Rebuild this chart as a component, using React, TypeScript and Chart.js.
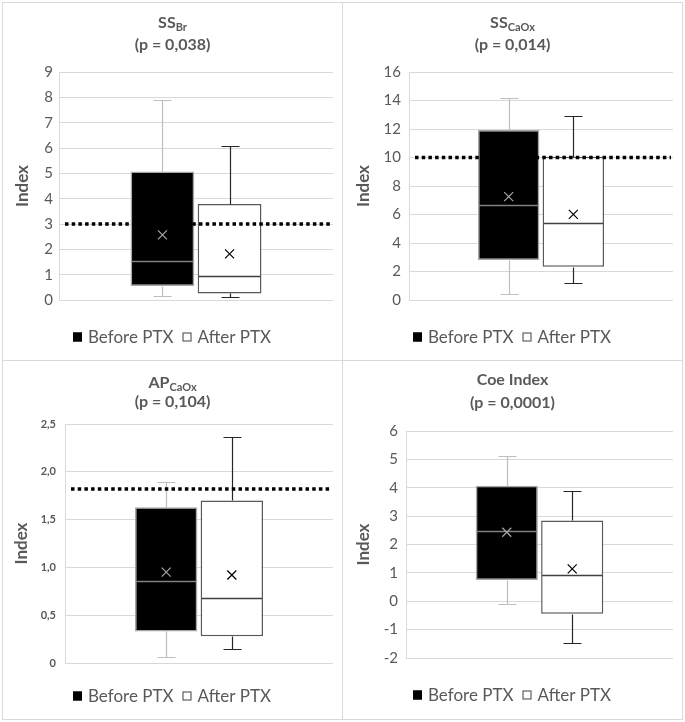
import React, { useEffect, useRef } from "react";
import { Chart, registerables } from "chart.js";

Chart.register(...registerables);

// ---------- data ----------
const GROUPS = ["Before PTX", "After PTX"];
const TITLE_MAIN = ["SS", "SS", "AP", "Coe Index"];
const TITLE_SUB = ["Br", "CaOx", "CaOx", ""];
const P_VALUES = ["(p = 0,038)", "(p = 0,014)", "(p = 0,104)", "(p = 0,0001)"];
const Y_LABEL = "Index";
const Y_MIN = [0, 0, 0, -2];
const Y_MAX = [9, 16, 2.5, 6];
const Y_STEP = [1, 2, 0.5, 1];
const THRESHOLDS: (number | null)[] = [3, 10, 1.82, null];

// per panel: [Before PTX, After PTX]
const WHISKER_LOW = [[0.15, 0.1], [0.44, 1.22], [0.06, 0.15], [-0.08, -1.46]];
const Q1 = [[0.55, 0.26], [2.81, 2.34], [0.33, 0.28], [0.75, -0.44]];
const MEDIAN = [[1.55, 0.95], [6.67, 5.43], [0.86, 0.68], [2.49, 0.92]];
const Q3 = [[5.07, 3.79], [11.93, 10.06], [1.63, 1.7], [4.07, 2.85]];
const WHISKER_HIGH = [[7.9, 6.08], [14.2, 12.89], [1.89, 2.36], [5.12, 3.9]];
const MEAN = [[2.57, 1.82], [7.25, 6.01], [0.95, 0.92], [2.43, 1.14]];

// ---------- styles / layout ----------
const FONT = "Lato, 'Open Sans', sans-serif";
const TEXT = "#595959";
const GRID = "#d9d9d9";

const GROUP_STYLE = [
  { fill: "#000000", border: "#a6a6a6", whisker: "#bfbfbf", median: "#808080", mean: "#a6a6a6", legendFill: "#000000", legendStroke: "#000000" },
  { fill: "#ffffff", border: "#595959", whisker: "#262626", median: "#404040", mean: "#000000", legendFill: "#ffffff", legendStroke: "#404040" },
];

const PANEL_POS = [
  { left: 2, top: 2, w: 341, h: 359 },
  { left: 342, top: 2, w: 341, h: 359 },
  { left: 2, top: 360, w: 341, h: 360 },
  { left: 342, top: 360, w: 341, h: 360 },
];
const AREA_LEFT = [56, 66, 62, 63];
const AREA_RIGHT = [330, 330, 330, 330];
const AREA_TOP = [69, 69, 63, 70];
const AREA_BOTTOM = [297, 297, 302, 297];
const TICK_PAD = [6, 8, 9, 8];
const YTITLE_PAD = [9, 10, 8, 10];
const TITLE_Y1 = [20, 20, 22, 19];
const TITLE_Y2 = [42, 42, 41, 42];
const LEGEND_Y = [334, 334, 335, 334];
const TICK_FONT = [
  { size: 15, weight: "normal" },
  { size: 15, weight: "normal" },
  { size: 11, weight: "bold" },
  { size: 15, weight: "normal" },
];

const titlePlugin = {
  id: "panelTitle",
  afterDraw(chart: any, _a: any, opts: any) {
    const { ctx, width } = chart;
    ctx.save();
    ctx.fillStyle = TEXT;
    ctx.textBaseline = "middle";
    const mainFont = `bold 16px ${FONT}`;
    const subFont = `bold 11px ${FONT}`;
    ctx.font = mainFont;
    const w1 = ctx.measureText(opts.main).width;
    ctx.font = subFont;
    const w2 = opts.sub ? ctx.measureText(opts.sub).width : 0;
    const x0 = width / 2 - (w1 + w2) / 2;
    ctx.textAlign = "left";
    ctx.font = mainFont;
    ctx.fillText(opts.main, x0, opts.y1);
    if (opts.sub) {
      ctx.font = subFont;
      ctx.fillText(opts.sub, x0 + w1, opts.y1 + 4);
    }
    ctx.font = mainFont;
    ctx.textAlign = "center";
    ctx.fillText(opts.p, width / 2, opts.y2);
    ctx.restore();
  },
};

const legendPlugin = {
  id: "panelLegend",
  afterDraw(chart: any, _a: any, opts: any) {
    const { ctx, width } = chart;
    ctx.save();
    ctx.font = `17px ${FONT}`;
    ctx.textBaseline = "middle";
    ctx.textAlign = "left";
    const box = 9;
    const gapBox = 6;
    const gapItem = 9;
    const widths = GROUPS.map((g) => ctx.measureText(g).width);
    const total = widths.reduce((s, w) => s + w + box + gapBox, 0) + gapItem * (GROUPS.length - 1);
    let x = Math.round(width / 2 - total / 2);
    const y = opts.y;
    GROUPS.forEach((g, i) => {
      const st = GROUP_STYLE[i];
      ctx.fillStyle = st.legendFill;
      ctx.fillRect(x, y - box / 2, box, box);
      ctx.strokeStyle = st.legendStroke;
      ctx.lineWidth = 1;
      ctx.strokeRect(x + 0.5, y - box / 2 + 0.5, box - 1, box - 1);
      ctx.fillStyle = TEXT;
      ctx.fillText(g, x + box + gapBox, y + 1);
      x += box + gapBox + widths[i] + gapItem;
    });
    ctx.restore();
  },
};

const boxPlugin = {
  id: "boxParts",
  afterDatasetsDraw(chart: any, _a: any, opts: any) {
    const { ctx } = chart;
    const ys = chart.scales.y;
    const p = opts.panel;
    GROUPS.forEach((_g, i) => {
      const el = chart.getDatasetMeta(i).data[0];
      if (!el) return;
      const st = GROUP_STYLE[i];
      const x = Math.round(el.x) + 0.5;
      const half = el.width / 2;
      const cap = 9;
      const py = (v: number) => Math.round(ys.getPixelForValue(v)) + 0.5;
      ctx.save();
      ctx.lineWidth = 1.2;
      ctx.strokeStyle = st.whisker;
      ctx.beginPath();
      ctx.moveTo(x, py(WHISKER_HIGH[p][i]));
      ctx.lineTo(x, py(Q3[p][i]));
      ctx.moveTo(x - cap, py(WHISKER_HIGH[p][i]));
      ctx.lineTo(x + cap, py(WHISKER_HIGH[p][i]));
      ctx.moveTo(x, py(Q1[p][i]));
      ctx.lineTo(x, py(WHISKER_LOW[p][i]));
      ctx.moveTo(x - cap, py(WHISKER_LOW[p][i]));
      ctx.lineTo(x + cap, py(WHISKER_LOW[p][i]));
      ctx.stroke();
      // median
      ctx.strokeStyle = st.median;
      ctx.lineWidth = 1.5;
      ctx.beginPath();
      ctx.moveTo(el.x - half + 1, py(MEDIAN[p][i]));
      ctx.lineTo(el.x + half - 1, py(MEDIAN[p][i]));
      ctx.stroke();
      // mean marker
      const my = ys.getPixelForValue(MEAN[p][i]);
      const s = 4.5;
      ctx.strokeStyle = st.mean;
      ctx.lineWidth = 1.2;
      ctx.beginPath();
      ctx.moveTo(el.x - s, my - s);
      ctx.lineTo(el.x + s, my + s);
      ctx.moveTo(el.x + s, my - s);
      ctx.lineTo(el.x - s, my + s);
      ctx.stroke();
      ctx.restore();
    });
    const t = THRESHOLDS[p];
    if (t !== null && t !== undefined) {
      const ca = chart.chartArea;
      const ty = ys.getPixelForValue(t);
      ctx.save();
      ctx.strokeStyle = "#000000";
      ctx.lineWidth = 3.5;
      ctx.setLineDash([3.5, 3.2]);
      ctx.beginPath();
      ctx.moveTo(ca.left + 6, ty);
      ctx.lineTo(ca.right - 2, ty);
      ctx.stroke();
      ctx.restore();
    }
  },
};

function Panel({ index }: { index: number }) {
  const ref = useRef<HTMLCanvasElement | null>(null);
  const pos = PANEL_POS[index];
  const cw = pos.w - 2;
  const ch = pos.h - 2;

  useEffect(() => {
    if (!ref.current) return;
    const i = index;
    const chart = new Chart(ref.current, {
      type: "bar",
      data: {
        labels: [""],
        datasets: GROUPS.map((g, k) => ({
          label: g,
          data: [[Q1[i][k], Q3[i][k]]] as any,
          backgroundColor: GROUP_STYLE[k].fill,
          borderColor: GROUP_STYLE[k].border,
          borderWidth: 1.5,
          borderSkipped: false,
          categoryPercentage: 0.49,
          barPercentage: 0.95,
        })),
      },
      options: {
        responsive: false,
        animation: false,
        events: [],
        layout: {
          padding: {
            left: 0,
            top: AREA_TOP[i],
            right: cw - AREA_RIGHT[i],
            bottom: ch - AREA_BOTTOM[i],
          },
        },
        scales: {
          x: { display: false },
          y: {
            min: Y_MIN[i],
            max: Y_MAX[i],
            afterFit: (scale: any) => {
              scale.width = AREA_LEFT[i];
            },
            ticks: {
              stepSize: Y_STEP[i],
              color: TEXT,
              padding: TICK_PAD[i],
              font: { family: FONT, size: TICK_FONT[i].size, weight: TICK_FONT[i].weight as any },
              callback: (v: any) => {
                const n = Number(v);
                if (Y_STEP[i] < 1) return n === 0 ? "0" : n.toFixed(1).replace(".", ",");
                return String(n);
              },
            },
            grid: { color: GRID, lineWidth: 1, drawTicks: false },
            border: { display: true, color: GRID, width: 1 },
            title: {
              display: true,
              text: Y_LABEL,
              color: TEXT,
              font: { family: FONT, size: 17, weight: "bold" },
              padding: { top: YTITLE_PAD[i], bottom: 0 },
            },
          },
        },
        plugins: {
          legend: { display: false },
          tooltip: { enabled: false },
          title: { display: false },
          panelTitle: { main: TITLE_MAIN[i], sub: TITLE_SUB[i], p: P_VALUES[i], y1: TITLE_Y1[i], y2: TITLE_Y2[i] },
          panelLegend: { y: LEGEND_Y[i] },
          boxParts: { panel: i },
        } as any,
      },
      plugins: [titlePlugin, legendPlugin, boxPlugin],
    });
    return () => chart.destroy();
  }, [index]);

  return (
    <div
      style={{
        position: "absolute",
        left: pos.left,
        top: pos.top,
        width: pos.w,
        height: pos.h,
        boxSizing: "border-box",
        border: `1px solid ${GRID}`,
        background: "#fff",
      }}
    >
      <canvas ref={ref} width={cw} height={ch} style={{ display: "block", width: cw, height: ch }} />
    </div>
  );
}

export default function App() {
  return (
    <div style={{ position: "absolute", left: 0, top: 0, width: 685, height: 722, background: "#fff" }}>
      {[0, 1, 2, 3].map((i) => (
        <Panel key={i} index={i} />
      ))}
    </div>
  );
}
